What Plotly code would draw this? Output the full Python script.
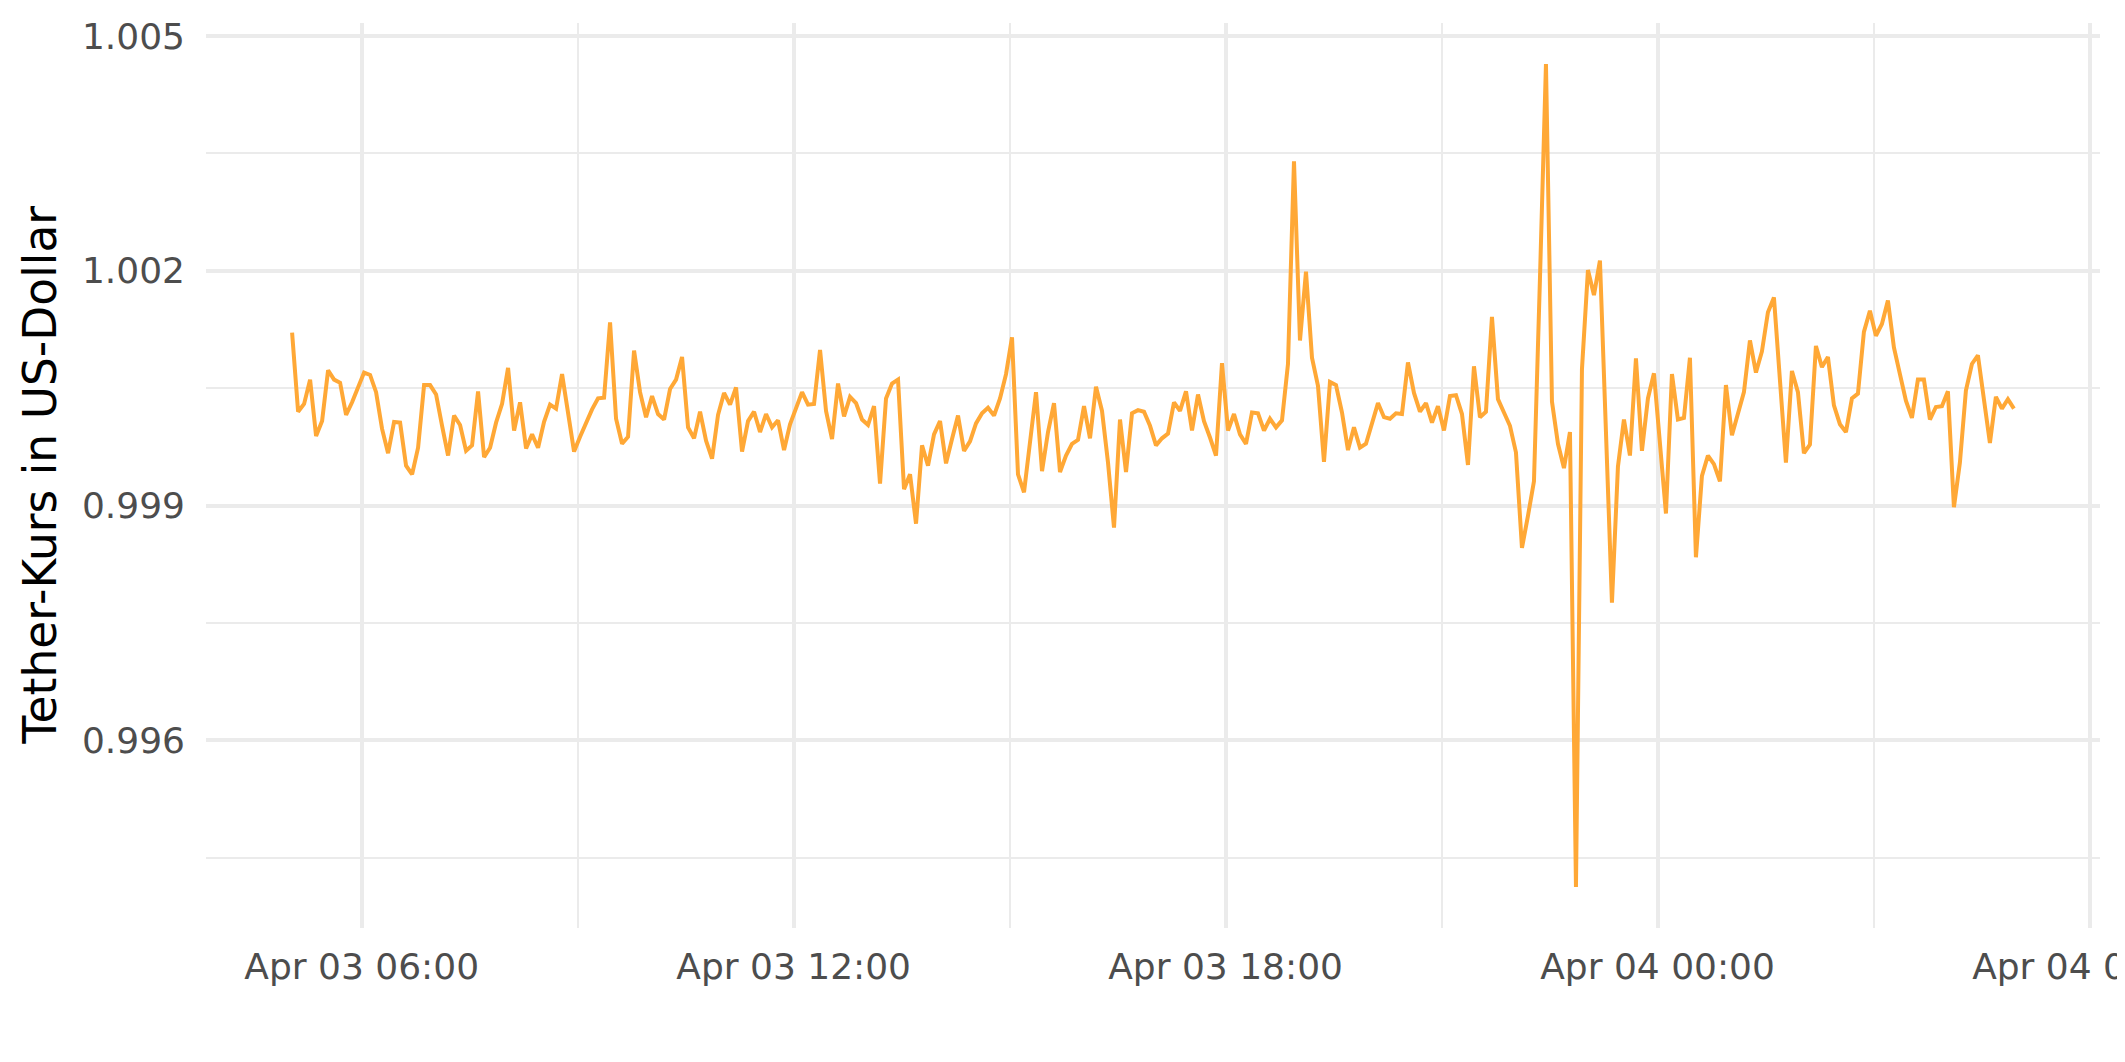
import pandas as pd
import plotly.graph_objects as go

# ---- data ----
start_time = "2024-04-03 05:02"
interval = "5min"

price = [
    1.00121, 1.00020, 1.00030, 1.00061, 0.99989, 1.00008, 1.00073, 1.00061, 1.00057, 1.00016, 1.00032, 1.00051,
    1.00070, 1.00067, 1.00045, 0.99998, 0.99967, 1.00007, 1.00006, 0.99951, 0.99940, 0.99974, 1.00054, 1.00054,
    1.00042, 1.00002, 0.99964, 1.00015, 1.00003, 0.99970, 0.99977, 1.00046, 0.99962, 0.99974, 1.00006, 1.00030,
    1.00076, 0.99996, 1.00032, 0.99973, 0.99991, 0.99974, 1.00007, 1.00029, 1.00024, 1.00068, 1.00019, 0.99969,
    0.99988, 1.00006, 1.00023, 1.00037, 1.00038, 1.00134, 1.00011, 0.99979, 0.99988, 1.00098, 1.00045, 1.00013,
    1.00040, 1.00017, 1.00010, 1.00049, 1.00061, 1.00090, 1.00000, 0.99986, 1.00020, 0.99983, 0.99960, 1.00016,
    1.00044, 1.00029, 1.00051, 0.99969, 1.00008, 1.00020, 0.99994, 1.00017, 1.00000, 1.00009, 0.99971, 1.00004,
    1.00023, 1.00045, 1.00029, 1.00030, 1.00099, 1.00021, 0.99985, 1.00056, 1.00014, 1.00039, 1.00031, 1.00010,
    1.00003, 1.00027, 0.99928, 1.00037, 1.00056, 1.00061, 0.99921, 0.99940, 0.99877, 0.99977, 0.99951, 0.99991,
    1.00008, 0.99954, 0.99985, 1.00015, 0.99970, 0.99982, 1.00005, 1.00018, 1.00025, 1.00015, 1.00037, 1.00068,
    1.00115, 0.99940, 0.99917, 0.99977, 1.00045, 0.99944, 0.99994, 1.00031, 0.99943, 0.99964, 0.99979, 0.99984,
    1.00027, 0.99986, 1.00052, 1.00021, 0.99955, 0.99872, 1.00010, 0.99943, 1.00018, 1.00022, 1.00020, 1.00002,
    0.99977, 0.99986, 0.99992, 1.00032, 1.00021, 1.00046, 0.99996, 1.00042, 1.00008, 0.99987, 0.99964, 1.00082,
    0.99996, 1.00017, 0.99991, 0.99979, 1.00019, 1.00018, 0.99996, 1.00011, 1.00000, 1.00009, 1.00081, 1.00340,
    1.00111, 1.00199, 1.00089, 1.00053, 0.99956, 1.00058, 1.00054, 1.00019, 0.99971, 1.00000, 0.99974, 0.99979,
    1.00006, 1.00031, 1.00013, 1.00011, 1.00018, 1.00017, 1.00083, 1.00044, 1.00020, 1.00031, 1.00006, 1.00027,
    0.99996, 1.00040, 1.00041, 1.00017, 0.99952, 1.00078, 1.00013, 1.00020, 1.00141, 1.00036, 1.00019, 1.00002,
    0.99968, 0.99846, 0.99887, 0.99931, 1.00190, 1.00464, 1.00033, 0.99979, 0.99948, 0.99994, 0.99413, 1.00074,
    1.00201, 1.00169, 1.00213, 0.99979, 0.99776, 0.99950, 1.00010, 0.99964, 1.00088, 0.99970, 1.00037, 1.00069,
    0.99980, 0.99890, 1.00068, 1.00010, 1.00012, 1.00089, 0.99834, 0.99938, 0.99964, 0.99953, 0.99931, 1.00054,
    0.99990, 1.00017, 1.00045, 1.00111, 1.00070, 1.00097, 1.00147, 1.00166, 1.00060, 0.99955, 1.00072, 1.00045,
    0.99967, 0.99978, 1.00104, 1.00077, 1.00090, 1.00028, 1.00004, 0.99994, 1.00037, 1.00043, 1.00122, 1.00149,
    1.00117, 1.00132, 1.00162, 1.00102, 1.00068, 1.00034, 1.00012, 1.00061, 1.00061, 1.00010, 1.00026, 1.00027,
    1.00046, 0.99898, 0.99955, 1.00047, 1.00081, 1.00092, 1.00036, 0.99980, 1.00039, 1.00024, 1.00036, 1.00024,
]

y_ticks = [0.996, 0.999, 1.002, 1.005]
y_tick_labels = ["0.996", "0.999", "1.002", "1.005"]
y_minor = [0.9945, 0.9975, 1.0005, 1.0035]

x_ticks = ["2024-04-03 06:00", "2024-04-03 12:00", "2024-04-03 18:00",
           "2024-04-04 00:00", "2024-04-04 06:00"]
x_tick_labels = ["Apr 03 06:00", "Apr 03 12:00", "Apr 03 18:00",
                 "Apr 04 00:00", "Apr 04 06:00"]
x_minor = ["2024-04-03 03:00", "2024-04-03 09:00", "2024-04-03 15:00",
           "2024-04-03 21:00", "2024-04-04 03:00"]

y_title = "Tether-Kurs in US-Dollar"

# ---- build ----
times = pd.date_range(start_time, periods=len(price), freq=interval)

ymin, ymax = min(price), max(price)
ypad = 0.05 * (ymax - ymin)
t0, t1 = times[0], times[-1]
xpad = (t1 - t0) * 0.05

# the page body adds an 8 px offset, so the figure is 8 px smaller
W, H = 2117, 1054
ML, MR, MT, MB = 198, 25, 15, 134

GRID = "#EBEBEB"
FONT = "DejaVu Sans"

fig = go.Figure()
fig.add_trace(go.Scatter(
    x=times, y=price, mode="lines",
    line=dict(color="#FFA836", width=4),
    hoverinfo="x+y", showlegend=False,
))

fig.update_layout(
    width=W, height=H,
    margin=dict(l=ML, r=MR, t=MT, b=MB, pad=0, autoexpand=False),
    paper_bgcolor="white", plot_bgcolor="white",
    font=dict(family=FONT, color="#4D4D4D"),
    showlegend=False,
)

fig.update_xaxes(
    range=[t0 - xpad, t1 + xpad],
    automargin=False,
    tickmode="array", tickvals=x_ticks, ticktext=x_tick_labels,
    showgrid=True, gridcolor=GRID, gridwidth=3.5,
    zeroline=False, showline=False, ticks="",
    ticklabelstandoff=14,
    ticklabeloverflow="allow",
    tickfont=dict(family=FONT, size=36, color="#4D4D4D"),
    minor=dict(tickmode="array", tickvals=x_minor, showgrid=True,
               gridcolor=GRID, gridwidth=1.9, ticks=""),
)

fig.update_yaxes(
    range=[ymin - ypad, ymax + ypad],
    automargin=False,
    tickmode="array", tickvals=y_ticks, ticktext=y_tick_labels,
    showgrid=True, gridcolor=GRID, gridwidth=3.5,
    zeroline=False, showline=False, ticks="",
    ticklabelstandoff=20,
    ticklabeloverflow="allow",
    tickfont=dict(family=FONT, size=36, color="#4D4D4D"),
    minor=dict(tickmode="array", tickvals=y_minor, showgrid=True,
               gridcolor=GRID, gridwidth=1.9, ticks=""),
)

fig.add_annotation(
    text=y_title, textangle=-90,
    xref="paper", yref="paper",
    x=(32 - ML) / (W - ML - MR), y=0.5,
    xanchor="center", yanchor="middle", showarrow=False,
    font=dict(family=FONT, size=45.5, color="black"),
)

fig.write_html("out.html")
